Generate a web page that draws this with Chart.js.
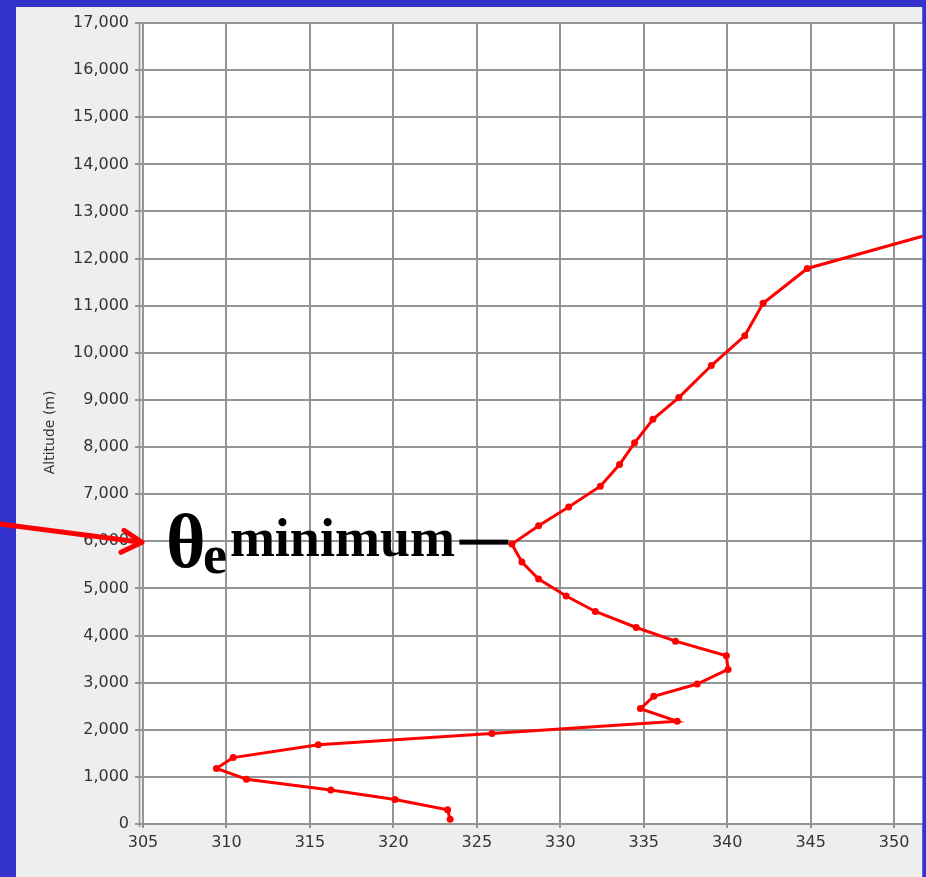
<!DOCTYPE html>
<html>
<head>
<meta charset="utf-8">
<script src="https://cdn.jsdelivr.net/npm/chart.js@4.4.1/dist/chart.umd.min.js"></script>
<style>
  html, body { margin: 0; padding: 0; background: #3333cc; overflow: hidden; }
  canvas { display: block; }
</style>
</head>
<body>
<canvas id="c" width="926" height="877"></canvas>
<script>
// ---- data ----
const thetaE = [323.4, 323.25, 320.1, 316.25, 311.2, 309.4, 310.4, 315.5, 325.9, 337.0,
                334.8, 335.6, 338.2, 340.05, 339.95, 336.9, 334.55, 332.1, 330.35, 328.7,
                327.7, 327.1, 328.7, 330.5, 332.4, 333.55, 334.45, 335.55, 337.1, 339.05,
                341.05, 342.15, 344.8, 357.0];
const altitude = [100, 300, 520, 720, 950, 1180, 1410, 1680, 1920, 2180,
                  2450, 2710, 2970, 3280, 3570, 3880, 4170, 4510, 4840, 5200,
                  5560, 5940, 6330, 6730, 7170, 7630, 8090, 8590, 9050, 9730,
                  10360, 11050, 11790, 13000];
const xMin = 305, xMax = 351.7, xStep = 5;
const yMin = 0, yMax = 17000, yStep = 1000;
const yTitle = 'Altitude (m)';
const minIndex = 21;            // the θe minimum point
const arrowAltitude = 6000;     // where the red arrow points on the axis
const labelTheta = 'θ', labelSub = 'e', labelWord = 'minimum';

const points = thetaE.map((v, i) => ({ x: v, y: altitude[i] }));

const BLUE = '#3333cc', PANEL = '#eeeeee', GRID = '#949494';

const backgroundPlugin = {
  id: 'bg',
  beforeDraw(chart) {
    const { ctx, chartArea: a, width, height } = chart;
    ctx.save();
    ctx.fillStyle = BLUE;
    ctx.fillRect(0, 0, width, height);
    ctx.fillStyle = PANEL;
    ctx.fillRect(16, 7, 906.5, height - 7);
    ctx.fillStyle = '#ffffff';
    ctx.fillRect(a.left, a.top, a.right - a.left, a.bottom - a.top);
    ctx.restore();
  }
};

const overlayPlugin = {
  id: 'overlay',
  afterDraw(chart) {
    const { ctx, chartArea: a, width, height } = chart;
    const xs = chart.scales.x, ys = chart.scales.y;
    ctx.save();
    // right blue frame strip
    ctx.fillStyle = BLUE;
    ctx.fillRect(922.5, 0, width - 922.5, height);
    // offset axis line (double line look)
    ctx.strokeStyle = GRID;
    ctx.lineWidth = 1.5;
    ctx.beginPath();
    ctx.moveTo(a.left - 3.5, a.top - 0.5);
    ctx.lineTo(a.left - 3.5, a.bottom + 3);
    ctx.stroke();

    // annotation text anchored at the minimum point
    const px = xs.getPixelForValue(thetaE[minIndex]);
    const py = ys.getPixelForValue(altitude[minIndex]);
    ctx.fillStyle = '#000000';
    ctx.textAlign = 'left';
    ctx.textBaseline = 'alphabetic';
    ctx.font = 'bold 76px "Liberation Serif"';
    ctx.fillText(labelTheta, px - 346, py + 23);
    ctx.font = 'bold 54px "Liberation Serif"';
    ctx.fillText(labelSub, px - 309, py + 29);
    ctx.fillText(labelWord, px - 282, py + 12);
    ctx.fillRect(px - 52.5, py - 4.5, 49, 5);

    // red arrow pointing at the axis
    const tx = a.left, ty = ys.getPixelForValue(arrowAltitude) + 1;
    ctx.strokeStyle = '#ff0000';
    ctx.lineWidth = 5;
    ctx.lineCap = 'round';
    ctx.lineJoin = 'round';
    ctx.beginPath();
    ctx.moveTo(-5, ty - 19);
    ctx.lineTo(tx - 2, ty);
    ctx.moveTo(tx - 19, ty - 12);
    ctx.lineTo(tx - 1, ty);
    ctx.lineTo(tx - 22, ty + 10);
    ctx.stroke();
    ctx.restore();
  }
};

new Chart(document.getElementById('c'), {
  type: 'scatter',
  data: {
    datasets: [{
      data: points,
      showLine: true,
      borderColor: '#ff0000',
      backgroundColor: '#ff0000',
      borderWidth: 3,
      pointRadius: 3.5,
      pointHoverRadius: 3.5,
      pointBorderWidth: 0,
      tension: 0
    }]
  },
  options: {
    responsive: false,
    animation: false,
    locale: 'en-US',
    layout: { padding: { top: 23, left: 16, right: 0, bottom: 0 } },
    plugins: { legend: { display: false }, tooltip: { enabled: false } },
    scales: {
      x: {
        type: 'linear',
        min: xMin, max: xMax,
        afterFit(s) { s.height = 53; },
        ticks: { stepSize: xStep, includeBounds: false, padding: 5, color: '#333333',
                 font: { family: '"DejaVu Sans"', size: 16 }, maxRotation: 0, autoSkip: false },
        grid: { color: GRID, lineWidth: 2, tickLength: 4, tickColor: GRID },
        border: { color: GRID, width: 2 }
      },
      y: {
        type: 'linear',
        min: yMin, max: yMax,
        afterFit(s) { s.width = 127; },
        ticks: { stepSize: yStep, padding: 6, color: '#333333',
                 font: { family: '"DejaVu Sans"', size: 16 }, autoSkip: false },
        grid: { color: GRID, lineWidth: 2, tickLength: 8, tickColor: GRID },
        border: { color: GRID, width: 2 },
        title: { display: true, text: yTitle + '    ', color: '#333333',
                 font: { family: '"DejaVu Sans"', size: 14 }, padding: { top: 26, bottom: 0 } }
      }
    }
  },
  plugins: [backgroundPlugin, overlayPlugin]
});
</script>
</body>
</html>
